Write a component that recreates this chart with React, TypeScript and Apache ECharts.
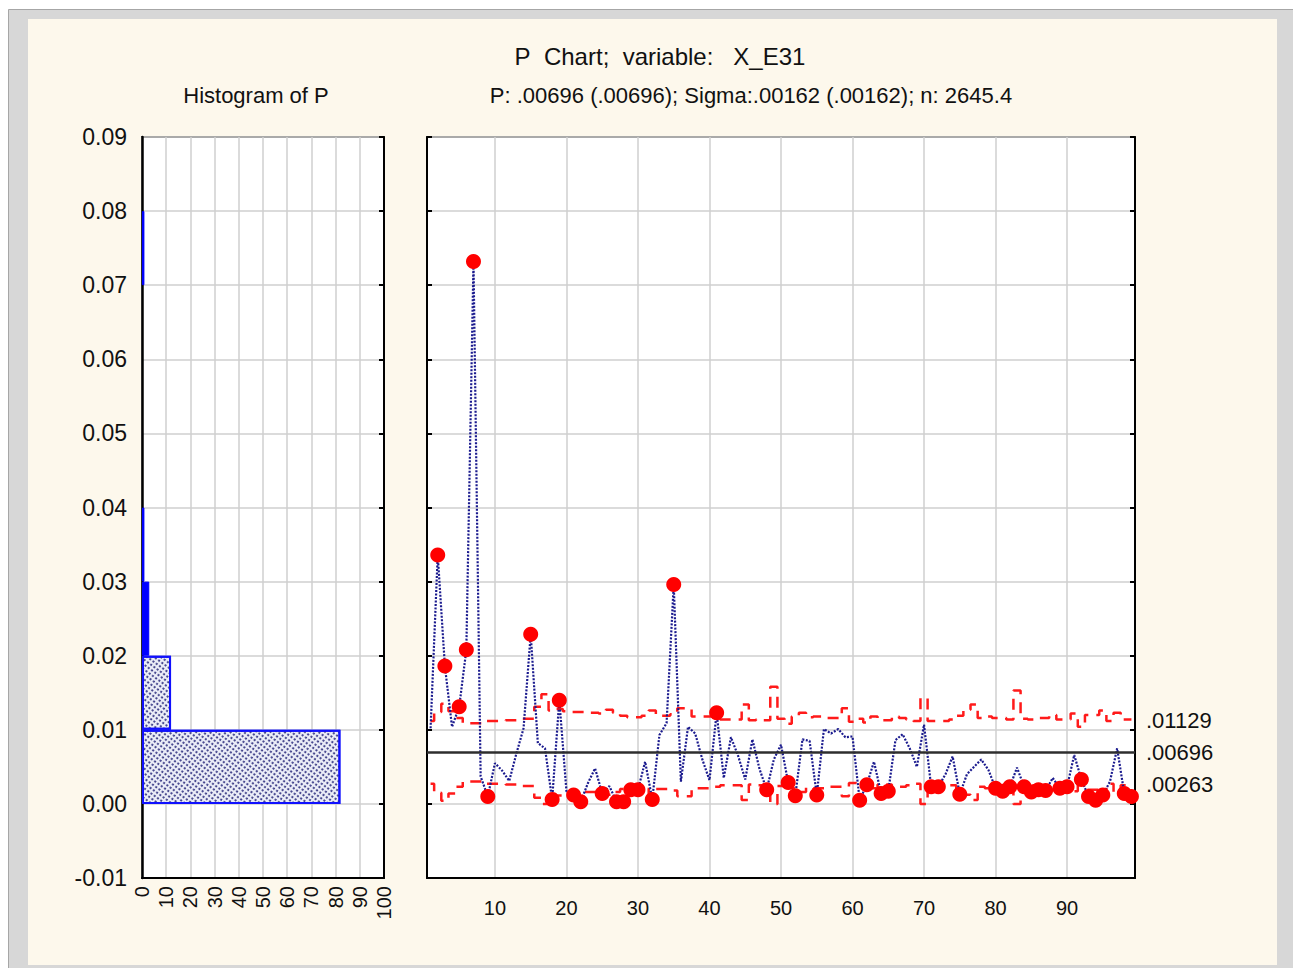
import React, { useEffect, useRef } from "react";
import * as echarts from "echarts";

// Proportion nonconforming per sample (samples 1..99)
const pValues = [
  0.0102, 0.0336, 0.0186, 0.0104, 0.0131, 0.0208, 0.0732, 0.0037, 0.0010, 0.0055,
  0.0045, 0.0031, 0.0068, 0.0102, 0.0229, 0.0082, 0.0075, 0.0006, 0.0140, 0.0017,
  0.0012, 0.0003, 0.0028, 0.0048, 0.0014, 0.0024, 0.0003, 0.0003, 0.0019, 0.0019,
  0.0057, 0.0006, 0.0093, 0.0109, 0.0296, 0.0030, 0.0104, 0.0095, 0.0060, 0.0032,
  0.0123, 0.0035, 0.0090, 0.0065, 0.0033, 0.0087, 0.0047, 0.0019, 0.0060, 0.0080,
  0.0029, 0.0011, 0.0087, 0.0085, 0.0012, 0.0101, 0.0095, 0.0101, 0.0090, 0.0091,
  0.0005, 0.0026, 0.0057, 0.0014, 0.0017, 0.0086, 0.0094, 0.0075, 0.0050, 0.0107,
  0.0023, 0.0023, 0.0040, 0.0064, 0.0013, 0.0040, 0.0050, 0.0060, 0.0046, 0.0021,
  0.0017, 0.0023, 0.0049, 0.0023, 0.0016, 0.0019, 0.0018, 0.0035, 0.0021, 0.0023,
  0.0066, 0.0033, 0.0010, 0.0005, 0.0012, 0.0030, 0.0075, 0.0014, 0.0010,
];

// Upper control limit per sample (varies with sample size)
const uclValues = [
  0.0112, 0.0124, 0.0135, 0.0125, 0.0116, 0.0109, 0.0109, 0.0109, 0.0112, 0.0112,
  0.0112, 0.0113, 0.0113, 0.0115, 0.0115, 0.0131, 0.0148, 0.0126, 0.0128, 0.0125,
  0.0124, 0.0124, 0.0123, 0.0123, 0.0122, 0.0127, 0.0123, 0.0119, 0.0117, 0.0117,
  0.0119, 0.0126, 0.0119, 0.0119, 0.0121, 0.0129, 0.0129, 0.0118, 0.0118, 0.0118,
  0.0116, 0.0114, 0.0114, 0.0114, 0.0134, 0.0113, 0.0114, 0.0113, 0.0158, 0.0115,
  0.0108, 0.0118, 0.0123, 0.0117, 0.0118, 0.0118, 0.0116, 0.0116, 0.0129, 0.0111,
  0.0115, 0.0110, 0.0118, 0.0113, 0.0113, 0.0118, 0.0116, 0.0114, 0.0112, 0.0143,
  0.0112, 0.0112, 0.0112, 0.0114, 0.0119, 0.0127, 0.0134, 0.0116, 0.0118, 0.0116,
  0.0116, 0.0114, 0.0153, 0.0115, 0.0114, 0.0116, 0.0116, 0.0120, 0.0114, 0.0114,
  0.0122, 0.0104, 0.0120, 0.0120, 0.0126, 0.0112, 0.0123, 0.0114, 0.0114,
];

// Summary statistics
const CENTER = 0.00696;
const UCL_MEAN = 0.01129;
const LCL_MEAN = 0.00263;
const SIGMA = 0.00162;
const N_MEAN = 2645.4;

// Histogram bins along the P axis
const binEdges = [-0.01, 0, 0.01, 0.02, 0.03, 0.04, 0.05, 0.06, 0.07, 0.08, 0.09];
const SOLID_FROM = 0.02;

const FONT = "'Liberation Sans', Arial, Helvetica, sans-serif";

const fmtP = (v: number) => v.toFixed(5).replace(/^0/, "");

export default function App() {
  const ref = useRef<HTMLDivElement>(null);

  useEffect(() => {
    if (!ref.current) return;
    const chart = echarts.init(ref.current, undefined, { renderer: "svg" });

    const sampleNo = pValues.map((_, i) => i + 1);
    // p-chart limits are symmetric about the center line; LCL cannot go below zero
    const lclValues = uclValues.map((u) => Math.max(0, 2 * CENTER - u));

    const pData = pValues.map((v, i) => [sampleNo[i], v]);
    const uclData = uclValues.map((v, i) => [sampleNo[i], v]);
    const lclData = lclValues.map((v, i) => [sampleNo[i], v]);
    const outData = pValues
      .map((v, i) => ({ v, i }))
      .filter(({ v, i }) => v > uclValues[i] || v < lclValues[i])
      .map(({ v, i }) => [sampleNo[i], v]);

    const binCount = binEdges.length - 1;
    const counts = new Array(binCount).fill(0);
    pValues.forEach((v) => {
      for (let b = 0; b < binCount; b++) {
        if (v >= binEdges[b] && v < binEdges[b + 1]) {
          counts[b]++;
          break;
        }
      }
    });
    const binLabels = counts.map((_, b) => binEdges[b].toFixed(2));

    const hatch = {
      symbol: "circle",
      symbolSize: 1,
      color: "rgba(20,20,110,0.9)",
      dashArrayX: [2, 2],
      dashArrayY: [2, 1.5],
      rotation: Math.PI / 5,
    };

    const histData = counts.map((c, b) =>
      c === 0
        ? "-"
        : {
            value: c,
            itemStyle:
              binEdges[b] >= SOLID_FROM - 1e-9
                ? { color: "#0000ff", borderColor: "#0000ff", borderWidth: 1 }
                : { color: "#eceef8", borderColor: "#1010ff", borderWidth: 2, decal: hatch },
          }
    );

    const gridLine = { lineStyle: { color: "#cfcfcf", width: 1.5 } };
    const yLabel = (v: number) => v.toFixed(2);
    const limitStyle = { color: "#ff1a1a", width: 2.5, type: [11, 8] };

    const option: any = {
      animation: false,
      backgroundColor: "#ffffff",
      textStyle: { fontFamily: FONT },
      graphic: [
        {
          type: "rect",
          z: -20,
          silent: true,
          shape: { x: 8.5, y: 9.5, width: 1290, height: 965 },
          style: { fill: "#d7d7d7", stroke: "#a6a6a6", lineWidth: 1 },
        },
        {
          type: "rect",
          z: -19,
          silent: true,
          shape: { x: 28, y: 19, width: 1249, height: 946 },
          style: { fill: "#fdf8ec" },
        },
        {
          type: "text",
          z: 10,
          style: {
            text: "P\u00a0 Chart;\u00a0 variable:\u00a0\u00a0 X_E31",
            x: 660,
            y: 56,
            textAlign: "center",
            textVerticalAlign: "middle",
            font: `24px ${FONT}`,
            fill: "#111",
          },
        },
        {
          type: "text",
          z: 10,
          style: {
            text: "Histogram of P",
            x: 256,
            y: 95,
            textAlign: "center",
            textVerticalAlign: "middle",
            font: `22px ${FONT}`,
            fill: "#111",
          },
        },
        {
          type: "text",
          z: 10,
          style: {
            text: `P: ${fmtP(CENTER)} (${fmtP(CENTER)}); Sigma:${fmtP(SIGMA)} (${fmtP(SIGMA)}); n: ${N_MEAN}`,
            x: 751,
            y: 95,
            textAlign: "center",
            textVerticalAlign: "middle",
            font: `22px ${FONT}`,
            fill: "#111",
          },
        },
      ],
      grid: [
        {
          left: 142,
          top: 137,
          width: 242,
          height: 741,
          show: true,
          backgroundColor: "#ffffff",
          borderColor: "#000",
          borderWidth: 1.5,
        },
        {
          left: 427,
          top: 137,
          width: 708,
          height: 741,
          show: true,
          backgroundColor: "#ffffff",
          borderColor: "#000",
          borderWidth: 1.5,
        },
      ],
      xAxis: [
        {
          gridIndex: 0,
          type: "value",
          min: 0,
          max: 100,
          interval: 10,
          axisLine: { show: true, onZero: false, lineStyle: { color: "#000", width: 2 } },
          axisTick: { show: false },
          axisLabel: { rotate: 90, fontSize: 20, color: "#111", margin: 8, fontFamily: FONT },
          splitLine: gridLine,
        },
        {
          gridIndex: 1,
          type: "value",
          min: 0.5,
          max: 99.5,
          splitNumber: 10,
          axisLine: { show: true, onZero: false, lineStyle: { color: "#000", width: 2 } },
          axisTick: { show: false },
          axisLabel: {
            showMinLabel: false,
            showMaxLabel: false,
            fontSize: 20,
            color: "#111",
            margin: 20,
            fontFamily: FONT,
            formatter: (v: number) =>
              Math.abs(v - Math.round(v)) < 1e-9 ? String(Math.round(v)) : "",
          },
          splitLine: gridLine,
        },
      ],
      yAxis: [
        {
          gridIndex: 0,
          type: "value",
          min: -0.01,
          max: 0.09,
          interval: 0.01,
          axisLine: { show: true, onZero: false, lineStyle: { color: "#000", width: 2.5 } },
          axisTick: { show: false },
          axisLabel: { formatter: yLabel, fontSize: 23, color: "#111", margin: 15, fontFamily: FONT },
          splitLine: gridLine,
        },
        {
          gridIndex: 0,
          type: "category",
          data: binLabels,
          show: false,
          boundaryGap: true,
        },
        {
          gridIndex: 0,
          type: "value",
          position: "right",
          min: -0.01,
          max: 0.09,
          interval: 0.01,
          axisLine: { show: true, onZero: false, lineStyle: { color: "#000", width: 2 } },
          axisTick: { show: true, inside: true, length: 5, lineStyle: { color: "#000", width: 2 } },
          axisLabel: { show: false },
          splitLine: { show: false },
        },
        {
          gridIndex: 1,
          type: "value",
          min: -0.01,
          max: 0.09,
          interval: 0.01,
          axisLine: { show: true, onZero: false, lineStyle: { color: "#000", width: 2 } },
          axisTick: { show: true, inside: true, length: 5, lineStyle: { color: "#000", width: 2 } },
          axisLabel: { show: false },
          splitLine: gridLine,
        },
        {
          gridIndex: 1,
          type: "value",
          position: "right",
          min: -0.01,
          max: 0.09,
          interval: 0.01,
          axisLine: { show: true, onZero: false, lineStyle: { color: "#000", width: 2 } },
          axisTick: { show: true, inside: true, length: 5, lineStyle: { color: "#000", width: 2 } },
          axisLabel: { show: false },
          splitLine: { show: false },
        },
      ],
      series: [
        {
          name: "Histogram of P",
          type: "bar",
          xAxisIndex: 0,
          yAxisIndex: 1,
          barCategoryGap: "0%",
          data: histData,
          silent: true,
          z: 3,
        },
        {
          name: "UCL",
          type: "line",
          xAxisIndex: 1,
          yAxisIndex: 3,
          step: "middle",
          data: uclData,
          symbol: "none",
          silent: true,
          lineStyle: limitStyle,
          z: 3,
        },
        {
          name: "LCL",
          type: "line",
          xAxisIndex: 1,
          yAxisIndex: 3,
          step: "middle",
          data: lclData,
          symbol: "none",
          silent: true,
          lineStyle: limitStyle,
          z: 3,
        },
        {
          name: "P",
          type: "line",
          xAxisIndex: 1,
          yAxisIndex: 3,
          data: pData,
          symbol: "none",
          silent: true,
          lineStyle: { color: "#1a1a8e", width: 2.2, type: [2, 1.5] },
          z: 4,
          markLine: {
            silent: true,
            symbol: "none",
            animation: false,
            precision: 6,
            lineStyle: { color: "#2e2e2e", width: 2.5, type: "solid" },
            label: {
              show: true,
              position: "end",
              distance: 11,
              fontSize: 22,
              color: "#111",
              fontFamily: FONT,
            },
            data: [
              {
                yAxis: UCL_MEAN,
                lineStyle: { color: "rgba(0,0,0,0)", width: 0 },
                label: { show: true, formatter: fmtP(UCL_MEAN), color: "#111" },
              },
              {
                yAxis: CENTER,
                lineStyle: { color: "#2e2e2e", width: 2.5, type: "solid" },
                label: { show: true, formatter: fmtP(CENTER), color: "#111" },
              },
              {
                yAxis: LCL_MEAN,
                lineStyle: { color: "rgba(0,0,0,0)", width: 0 },
                label: { show: true, formatter: fmtP(LCL_MEAN), color: "#111" },
              },
            ],
          },
        },
        {
          name: "Out of control",
          type: "scatter",
          xAxisIndex: 1,
          yAxisIndex: 3,
          data: outData,
          symbol: "circle",
          symbolSize: 15,
          silent: true,
          itemStyle: { color: "#ff0000", opacity: 1 },
          z: 6,
        },
      ],
    };

    chart.setOption(option);
    return () => chart.dispose();
  }, []);

  return (
    <div
      ref={ref}
      style={{ position: "absolute", left: 0, top: 0, width: 1293, height: 968 }}
    />
  );
}
